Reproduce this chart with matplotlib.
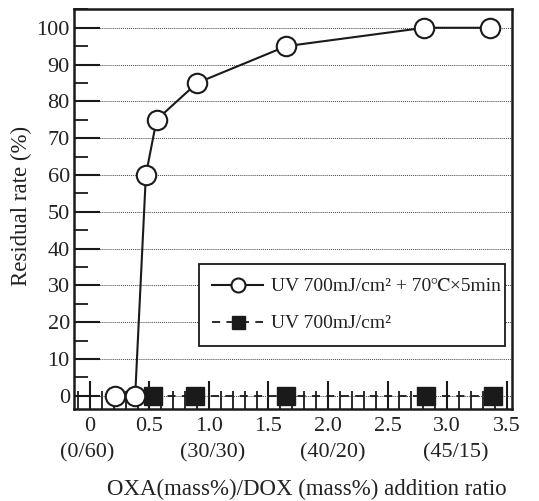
import matplotlib
matplotlib.use("Agg")
import matplotlib.pyplot as plt
import matplotlib.transforms as mtransforms
from matplotlib.ticker import MultipleLocator

# ---- data ----
x_heat = [0.21, 0.38, 0.47, 0.56, 0.90, 1.65, 2.81, 3.36]
y_heat = [0, 0, 60, 75, 85, 95, 100, 100]
x_uv = [0.53, 0.88, 1.65, 2.82, 3.39]
y_uv = [0, 0, 0, 0, 0]
label_heat = "UV 700mJ/cm² + 70℃×5min"
label_uv = "UV 700mJ/cm²"
ratio_pos = [-0.02, 1.03, 2.04, 3.07]
ratio_labels = ["(0/60)", "(30/30)", "(40/20)", "(45/15)"]
xtick_vals = [0, 0.5, 1.0, 1.5, 2.0, 2.5, 3.0, 3.5]
xtick_labels = ["0", "0.5", "1.0", "1.5", "2.0", "2.5", "3.0", "3.5"]
ytick_vals = [0, 10, 20, 30, 40, 50, 60, 70, 80, 90, 100]

fam = ["Liberation Serif", "FreeSerif", "DejaVu Serif", "DejaVu Sans"]
plt.rcParams['font.family'] = fam
plt.rcParams['text.color'] = '#222222'
FS = 16
INK = '#1a1a1a'

fig = plt.figure(figsize=(5.39, 5.01), dpi=100)
ax = fig.add_axes([74/539, 1-409/501, (512-74)/539, (409-9)/501])

ax.plot(x_uv, y_uv, linestyle=(0, (4.5, 3.5)), color=INK, lw=1.3,
        marker='s', markersize=13, markerfacecolor=INK,
        markeredgecolor=INK, label=label_uv, zorder=3)
ax.plot(x_heat, y_heat, linestyle='-', color=INK, lw=1.5,
        marker='o', markersize=14, markerfacecolor='white',
        markeredgecolor=INK, markeredgewidth=1.5, label=label_heat, zorder=4)

ax.set_xlim(-0.134, 3.546)
ax.set_ylim(-3.6, 105.1)

ax.set_xticks(xtick_vals)
ax.set_xticklabels(xtick_labels, fontsize=FS)
ax.xaxis.set_minor_locator(MultipleLocator(0.1))
ax.set_yticks(ytick_vals)
ax.set_yticklabels([str(v) for v in ytick_vals], fontsize=FS)
ax.yaxis.set_minor_locator(MultipleLocator(5))

ax.tick_params(axis='x', which='major', direction='in', length=20, width=1.5, pad=6, colors=INK)
ax.tick_params(axis='x', which='minor', direction='in', length=13, width=1.3, colors=INK)
ax.tick_params(axis='y', which='major', direction='in', length=19, width=1.5, pad=3, colors=INK)
ax.tick_params(axis='y', which='minor', direction='in', length=10, width=1.3, colors=INK)
for lab in ax.get_xticklabels() + ax.get_yticklabels():
    lab.set_color('#222222')

for s in ax.spines.values():
    s.set_linewidth(1.8)
    s.set_color(INK)

ax.grid(axis='y', which='major', linestyle=(0, (1, 1)), color='#444444', lw=0.7)
ax.set_axisbelow(True)

trans = mtransforms.blended_transform_factory(ax.transData, ax.transAxes)
for p, t in zip(ratio_pos, ratio_labels):
    ax.text(p, -0.11, t, transform=trans, ha='center', va='center', fontsize=FS)

fig.text(21/539, 1-206/501, "Residual rate (%)", rotation=90, ha='center', va='center',
         fontsize=16.5)
fig.text(307/539, 1-489/501, "OXA(mass%)/DOX (mass%) addition ratio", ha='center',
         va='center', fontsize=16.5)

handles, labels = ax.get_legend_handles_labels()
leg = ax.legend(handles[::-1], labels[::-1], loc='lower left',
                bbox_to_anchor=(0.285, 0.1575, 0.699, 0.2125), mode='expand',
                fontsize=14, frameon=True, fancybox=False, edgecolor=INK,
                framealpha=1, markerscale=0.72, handlelength=2.6, handletextpad=0.4,
                borderaxespad=0, labelspacing=1.0, borderpad=0.7)
leg.get_frame().set_linewidth(1.3)

fig.savefig("out.png", dpi=100)
